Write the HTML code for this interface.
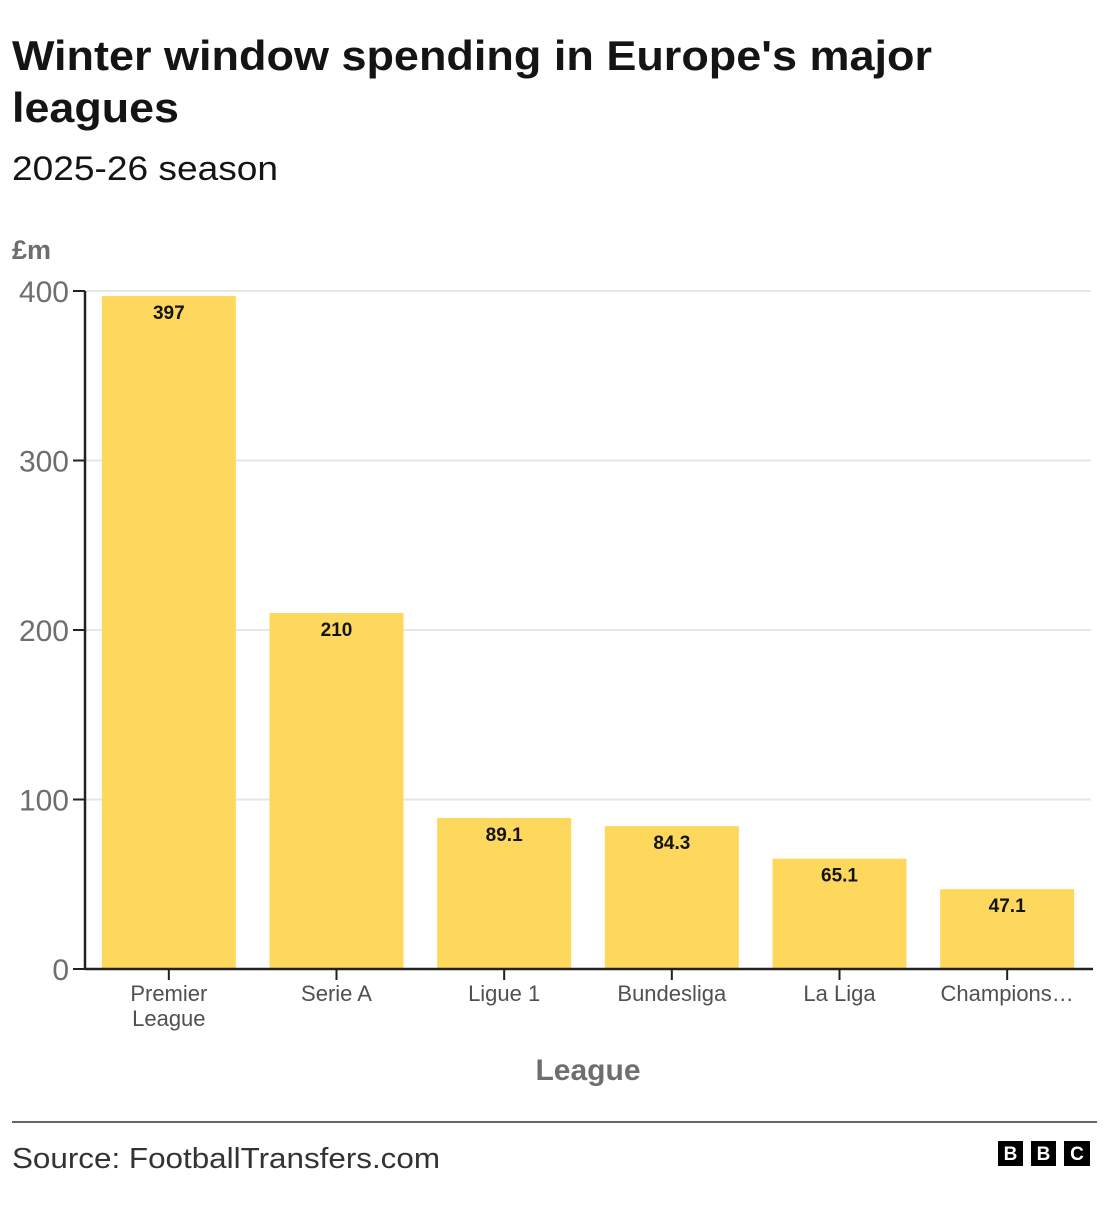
<!DOCTYPE html>
<html><head><meta charset="utf-8"><style>
body{margin:0;background:#fff;width:1118px;height:1200px;overflow:hidden;font-family:"Liberation Sans","DejaVu Sans",sans-serif}
</style></head><body>
<svg id="c" width="1118" height="1200">
<text x="12" y="70" font-size="42" font-weight="bold" fill="#141414" textLength="920" lengthAdjust="spacingAndGlyphs">Winter window spending in Europe's major</text>
<text x="12" y="122" font-size="42" font-weight="bold" fill="#141414" textLength="167" lengthAdjust="spacingAndGlyphs">leagues</text>
<text x="12" y="180" font-size="34" fill="#141414" textLength="266" lengthAdjust="spacingAndGlyphs">2025-26 season</text>
<text x="12" y="259" font-size="27" font-weight="bold" fill="#6e6e6e">£m</text>
<g id="grid"></g><g id="bars"></g><g id="axes"></g>
<text x="588" y="1080" font-size="30" font-weight="bold" fill="#6e6e6e" text-anchor="middle">League</text>
<line x1="12" y1="1122" x2="1097" y2="1122" stroke="#333" stroke-width="1.5"/>
<text x="12" y="1168" font-size="29" fill="#333" textLength="428" lengthAdjust="spacingAndGlyphs">Source: FootballTransfers.com</text>
<g font-weight="bold" font-size="19" fill="#fff" text-anchor="middle">
<rect x="998" y="1141" width="25" height="25" fill="#000"/><text x="1010.5" y="1160">B</text>
<rect x="1031" y="1141" width="25" height="25" fill="#000"/><text x="1043.5" y="1160">B</text>
<rect x="1064" y="1141" width="26" height="25" fill="#000"/><text x="1077" y="1160">C</text>
</g>
</svg>
<script>
const categories=["Premier League","Serie A","Ligue 1","Bundesliga","La Liga","Champions…"];
const values=[397,210,89.1,84.3,65.1,47.1];
const valueLabels=["397","210","89.1","84.3","65.1","47.1"];
const yTicks=[0,100,200,300,400];
const NS="http://www.w3.org/2000/svg";
const x0=85,x1=1091,yb=969,yt=291,ymax=400;
const y=v=>yb-(yb-yt)*v/ymax;
const band=(x1-x0)/categories.length;
const bx=i=>x0+band*i+band/2;
function mk(t,a,p){const e=document.createElementNS(NS,t);for(const k in a)e.setAttribute(k,a[k]);p.appendChild(e);return e;}
const g=document.getElementById('grid'),b=document.getElementById('bars'),ax=document.getElementById('axes');
yTicks.forEach(t=>{
 if(t>0){const l=mk('line',{x1:x0,x2:x1,y1:y(t),y2:y(t),stroke:'#e6e6e6','stroke-width':2},g);
 
 }
 const tk=mk('line',{x1:x0-12,x2:x0,y1:y(t),y2:y(t),stroke:'#222','stroke-width':2},ax);
 
 
 const tx=mk('text',{x:x0-16,y:y(t)+11,'font-size':30,fill:'#6e6e6e','text-anchor':'end'},ax);
 tx.textContent=t;
 
 
});
categories.forEach((c,i)=>{
 const w=134,cx=bx(i);
 const r=mk('rect',{x:cx-w/2,y:y(values[i]),width:w,height:yb-y(values[i]),fill:'#fdd85d'},b);
 
 
 const vl=mk('text',{x:cx,y:y(values[i])+23,'font-size':19,'font-weight':'bold',fill:'#141414','text-anchor':'middle'},b);
 vl.textContent=valueLabels[i];
 
 
 const tk=mk('line',{x1:cx,x2:cx,y1:yb,y2:yb+11,stroke:'#222','stroke-width':2},ax);
 
 
 const words=c==="Premier League"?["Premier","League"]:[c];
 words.forEach((wd,j)=>{
  const t=mk('text',{x:cx,y:1001+j*25,'font-size':22,fill:'#505050','text-anchor':'middle'},ax);
  t.textContent=wd;
  
  
 });
});
const ya=mk('line',{x1:x0,x2:x0,y1:yt,y2:yb,stroke:'#222','stroke-width':2.5},ax);


const xa=mk('line',{x1:x0,x2:x1+2,y1:yb,y2:yb,stroke:'#222','stroke-width':2.5},ax);


</script>
</body></html>
